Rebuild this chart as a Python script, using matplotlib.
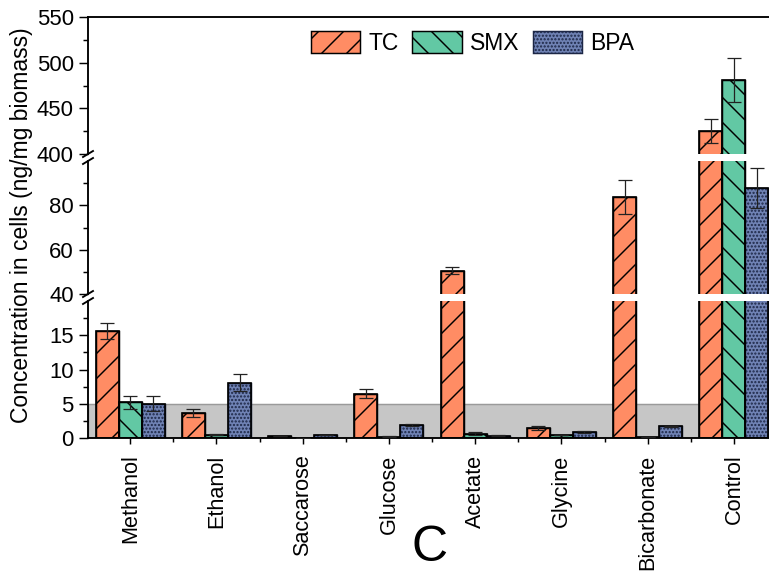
import numpy as np
import matplotlib.pyplot as plt
from matplotlib.lines import Line2D
from matplotlib.ticker import FixedLocator

plt.rcParams['font.family'] = ['Liberation Sans', 'DejaVu Sans']
plt.rcParams['hatch.linewidth'] = 0.7

categories = ['Methanol', 'Ethanol', 'Saccarose', 'Glucose', 'Acetate',
              'Glycine', 'Bicarbonate', 'Control']
tc = [15.6, 3.7, 0.3, 6.45, 50.6, 1.5, 83.9, 425.5]
tc_err = [1.2, 0.6, 0.0, 0.65, 1.5, 0.3, 7.6, 13.0]
smx = [5.2, 0.5, 0.02, 0.2, 0.63, 0.45, 0.15, 481.0]
smx_err = [1.0, 0.05, 0.0, 0.05, 0.25, 0.05, 0.05, 24.5]
bpa = [5.0, 8.1, 0.4, 1.9, 0.33, 0.87, 1.7, 88.0]
bpa_err = [1.1, 1.2, 0.0, 0.1, 0.1, 0.1, 0.1, 9.0]

series = [('TC', tc, tc_err, '#ff8c64', '//', 'black'),
          ('SMX', smx, smx_err, '#62c8a4', '\\\\', 'black'),
          ('BPA', bpa, bpa_err, '#6f82b4', '.......', '#1c2645')]

W, H = 769, 577
fig = plt.figure(figsize=(W / 150, H / 150), dpi=150)

left = 88 / W
width = (777 - 88) / W
# pixel rows of the three segments (top, bottom)
rows = [(17, 154), (161, 294), (301, 438)]
ylims = [(400, 550), (40, 100), (0, 20)]
majors = [[400, 450, 500, 550], [40, 60, 80], [0, 5, 10, 15]]
minors = [[425, 475, 525], [50, 70, 90], [2.5, 7.5, 12.5, 17.5]]

axes = []
for (t, b), yl, mj, mn in zip(rows, ylims, majors, minors):
    ax = fig.add_axes([left, 1 - b / H, width, (b - t) / H])
    ax.set_ylim(*yl)
    ax.set_xlim(-0.49, 7.5)
    ax.yaxis.set_major_locator(FixedLocator(mj))
    ax.yaxis.set_minor_locator(FixedLocator(mn))
    ax.spines['right'].set_visible(False)
    for s in ax.spines.values():
        s.set_linewidth(0.9)
    ax.tick_params(axis='y', which='major', direction='out', length=4.3,
                   width=0.7, labelsize=10.6, pad=2.5)
    ax.tick_params(axis='y', which='minor', direction='out', length=2.4,
                   width=0.7)
    axes.append(ax)

ax_top, ax_mid, ax_bot = axes
for ax in (ax_top, ax_mid):
    ax.spines['bottom'].set_visible(False)
    ax.set_xticks([])
for ax in (ax_mid, ax_bot):
    ax.spines['top'].set_visible(False)

ax_bot.axhspan(0, 5, facecolor='#c6c6c6', edgecolor='#9a9a9a', lw=0.7, zorder=0)

x = np.arange(len(categories))
w = 0.267
for ax in axes:
    for i, (name, vals, errs, fc, hatch, hc) in enumerate(series):
        pos = x + (i - 1) * w
        ax.bar(pos, vals, width=w, color=fc, edgecolor=hc, hatch=hatch,
               linewidth=0.7, label=name, zorder=2)
        ax.bar(pos, vals, width=w, fill=False, edgecolor='black',
               linewidth=0.8, zorder=3)
        ax.errorbar(pos, vals, yerr=errs, fmt='none', ecolor='#222222',
                    elinewidth=0.6, capsize=3.3, capthick=0.6, zorder=4)

ax_bot.set_xticks(x)
ax_bot.set_xticks(x[:-1] + 0.5, minor=True)
ax_bot.set_xticklabels(categories, rotation=90, fontsize=10.4)
ax_bot.tick_params(axis='x', which='major', direction='out', length=2.9,
                   width=0.7, pad=5)
ax_bot.tick_params(axis='x', which='minor', direction='out', length=2.0,
                   width=0.7)

# break marks on the left spine
for yb in (154, 161, 294, 301):
    yf = 1 - yb / H
    fig.add_artist(Line2D([left - 5 / W, left + 5 / W],
                          [yf - 3 / H, yf + 3 / H], color='black', lw=0.9))

fig.text(22 / W, 1 - 225 / H, 'Concentration in cells (ng/mg biomass)',
         rotation=90, ha='center', va='center', fontsize=11)

handles, labels = ax_top.get_legend_handles_labels()
leg = ax_top.legend(handles[:3], labels[:3], loc='upper left',
                    bbox_to_anchor=(311 / W, 1 - 31 / H),
                    bbox_transform=fig.transFigure, ncol=3, frameon=False,
                    fontsize=11, handlelength=2.15, handleheight=1.1,
                    handletextpad=0.35, columnspacing=0.6, borderpad=0,
                    borderaxespad=0)

fig.text(430 / W, 1 - 548 / H, 'C', ha='center', va='center', fontsize=24)

fig.savefig('out.png', dpi=150)
